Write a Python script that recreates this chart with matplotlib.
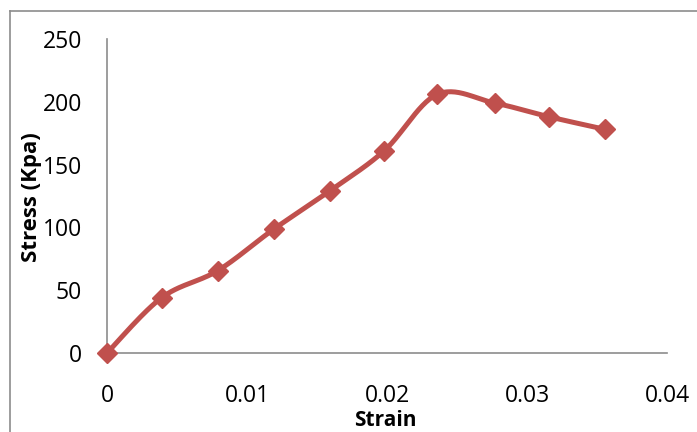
import matplotlib
matplotlib.use("Agg")
import matplotlib.pyplot as plt
import numpy as np
from matplotlib.lines import Line2D

# 応力-ひずみデータ
strain = [0.0, 0.0039, 0.0079, 0.0119, 0.0159, 0.0198, 0.0236, 0.0277, 0.0316, 0.0356]
stress = [0.0, 44.0, 65.5, 98.5, 129.0, 161.0, 206.0, 199.0, 188.0, 178.0]

xticks = [0, 0.01, 0.02, 0.03, 0.04]
xtick_labels = ["0", "0.01", "0.02", "0.03", "0.04"]
yticks = [0, 50, 100, 150, 200, 250]

line_color = "#C0504D"
axis_color = "#8C8C8C"

plt.rcParams["font.family"] = ["Open Sans", "DejaVu Sans"]


def smooth_curve(xs, ys, n=30):
    """Excel 風のスムージング (Catmull-Rom を 3 次ベジェで描く)"""
    pts = np.column_stack([xs, ys]).astype(float)
    # x と y のスケールを揃えてから制御点を計算する
    scale = np.array([1.0 / 0.04, 1.0 / 250.0])
    p = pts * scale
    out = [p[0]]
    t = np.linspace(0, 1, n)[1:, None]
    for i in range(len(p) - 1):
        p0 = p[i - 1] if i > 0 else p[i]
        p1, p2 = p[i], p[i + 1]
        p3 = p[i + 2] if i + 2 < len(p) else p[i + 1]
        c1 = p1 + (p2 - p0) / 6.0
        c2 = p2 - (p3 - p1) / 6.0
        seg = ((1 - t) ** 3) * p1 + 3 * ((1 - t) ** 2) * t * c1 \
            + 3 * (1 - t) * t ** 2 * c2 + t ** 3 * p2
        out.extend(seg)
    out = np.array(out) / scale
    return out[:, 0], out[:, 1]


W, H = 697, 432
fig = plt.figure(figsize=(W / 100, H / 100), dpi=100)
ax = fig.add_axes([107 / W, (H - 353) / H, (667 - 107) / W, (353 - 39) / H])

sx, sy = smooth_curve(strain, stress)
ax.plot(sx, sy, color=line_color, linewidth=3.6, solid_capstyle="round",
        clip_on=False, zorder=3)
ax.plot(strain, stress, linestyle="none", marker="D", markersize=10,
        color=line_color, clip_on=False, zorder=4)

ax.set_xlim(0, 0.04)
ax.set_ylim(0, 250)
ax.set_xticks(xticks)
ax.set_xticklabels(xtick_labels)
ax.set_yticks(yticks)
ax.tick_params(length=0, labelsize=16.5, colors="black")
ax.tick_params(axis="x", pad=22)
ax.tick_params(axis="y", pad=18)

for side in ("top", "right"):
    ax.spines[side].set_visible(False)
for side in ("left", "bottom"):
    ax.spines[side].set_color(axis_color)
    ax.spines[side].set_linewidth(1.2)

fig.text(385 / W, 1 - 421 / H, "Strain", ha="center", va="center",
         fontsize=15, fontweight="bold")
fig.text(32 / W, 1 - 197 / H, "Stress (Kpa)", ha="center", va="center",
         rotation=90, fontsize=16, fontweight="bold")

# グラフエリアの枠線 (左と上だけ見える)
fig.add_artist(Line2D([9.5 / W, 9.5 / W], [0, 1 - 10.5 / H],
                      transform=fig.transFigure, color=axis_color, linewidth=1.2))
fig.add_artist(Line2D([9.5 / W, 1], [1 - 10.5 / H, 1 - 10.5 / H],
                      transform=fig.transFigure, color=axis_color, linewidth=1.2))

fig.savefig("out.png", dpi=100)
